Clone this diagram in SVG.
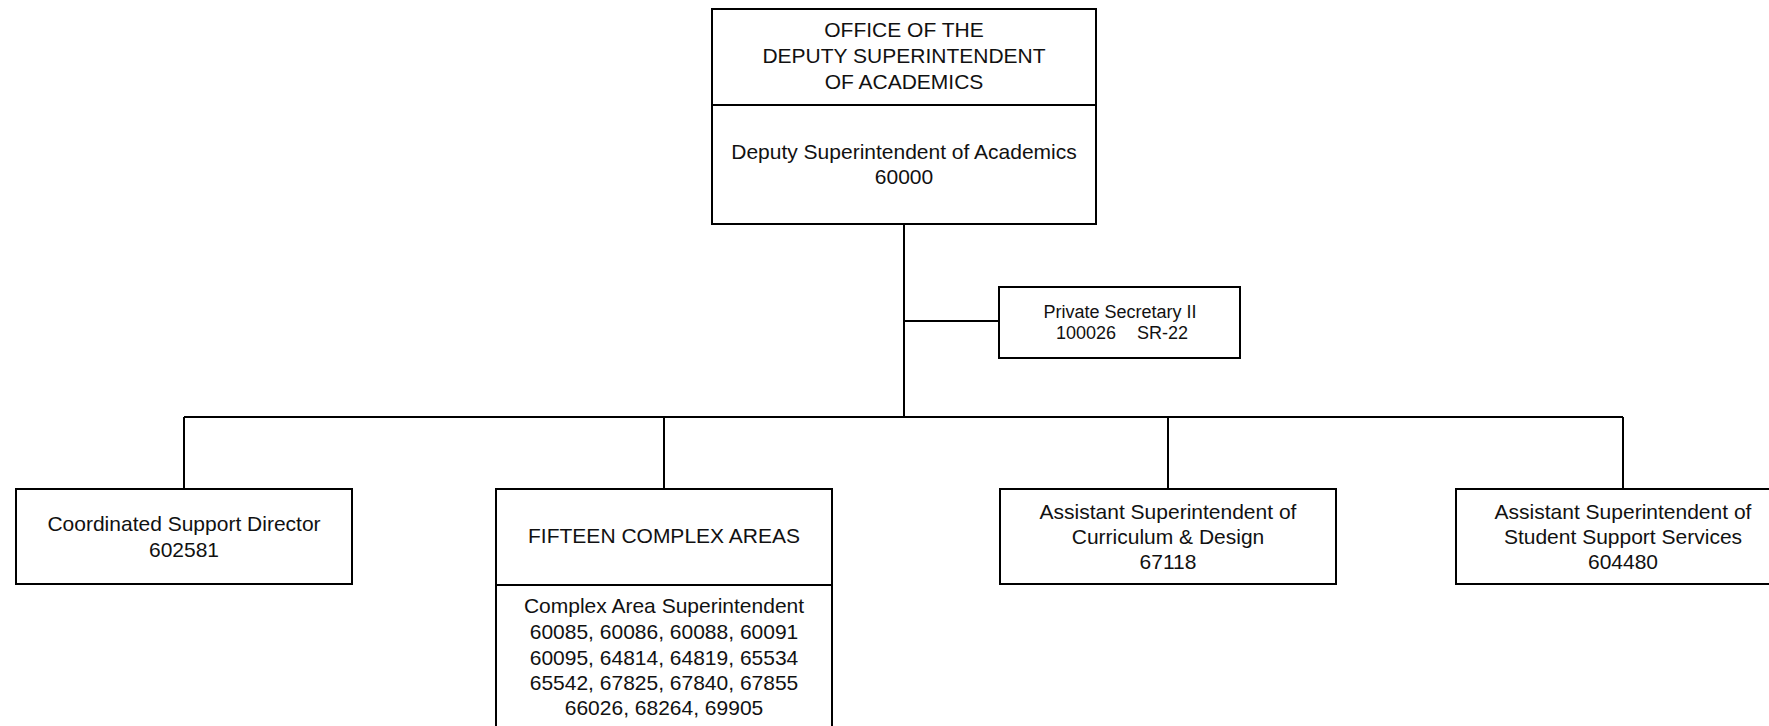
<svg xmlns="http://www.w3.org/2000/svg" width="1769" height="726" viewBox="0 0 1769 726">
<style>
.box{fill:#fff;stroke:#000;stroke-width:2}
.ln{fill:none;stroke:#000;stroke-width:2}
text{font-family:"Liberation Sans",Arial,sans-serif;font-size:21px;fill:#111;text-anchor:middle}
.sm{font-size:18px}
</style>
<rect width="1769" height="726" fill="#fff"/>
<g id="connectors">
<path class="ln" d="M904 224V417M904 321H999M184 417H1623M184 417V489M664 417V489M1168 417V489M1623 417V489"/>
</g>
<g id="office">
<rect class="box" x="712" y="9" width="384" height="215"/>
<line class="ln" x1="712" y1="105" x2="1096" y2="105"/>
<text x="904" y="37">OFFICE OF THE</text>
<text x="904" y="63">DEPUTY SUPERINTENDENT</text>
<text x="904" y="89">OF ACADEMICS</text>
<text x="904" y="159">Deputy Superintendent of Academics</text>
<text x="904" y="184">60000</text>
</g>
<g id="private-secretary">
<rect class="box" x="999" y="287" width="241" height="71"/>
<text class="sm" x="1120" y="318">Private Secretary II</text>
<text class="sm" style="text-anchor:start"><tspan x="1056" y="339">100026</tspan><tspan x="1137" y="339">SR-22</tspan></text>
</g>
<g id="coordinated">
<rect class="box" x="16" y="489" width="336" height="95"/>
<text x="184" y="531">Coordinated Support Director</text>
<text x="184" y="557">602581</text>
</g>
<g id="complex-areas">
<rect class="box" x="496" y="489" width="336" height="260"/>
<line class="ln" x1="496" y1="585" x2="832" y2="585"/>
<text x="664" y="543">FIFTEEN COMPLEX AREAS</text>
<text x="664" y="613">Complex Area Superintendent</text>
<text x="664" y="639">60085, 60086, 60088, 60091</text>
<text x="664" y="665">60095, 64814, 64819, 65534</text>
<text x="664" y="690">65542, 67825, 67840, 67855</text>
<text x="664" y="715">66026, 68264, 69905</text>
</g>
<g id="curriculum">
<rect class="box" x="1000" y="489" width="336" height="95"/>
<text x="1168" y="519">Assistant Superintendent of</text>
<text x="1168" y="544">Curriculum &amp; Design</text>
<text x="1168" y="569">67118</text>
</g>
<g id="student-support">
<rect class="box" x="1456" y="489" width="334" height="95"/>
<text x="1623" y="519">Assistant Superintendent of</text>
<text x="1623" y="544">Student Support Services</text>
<text x="1623" y="569">604480</text>
</g>
</svg>
